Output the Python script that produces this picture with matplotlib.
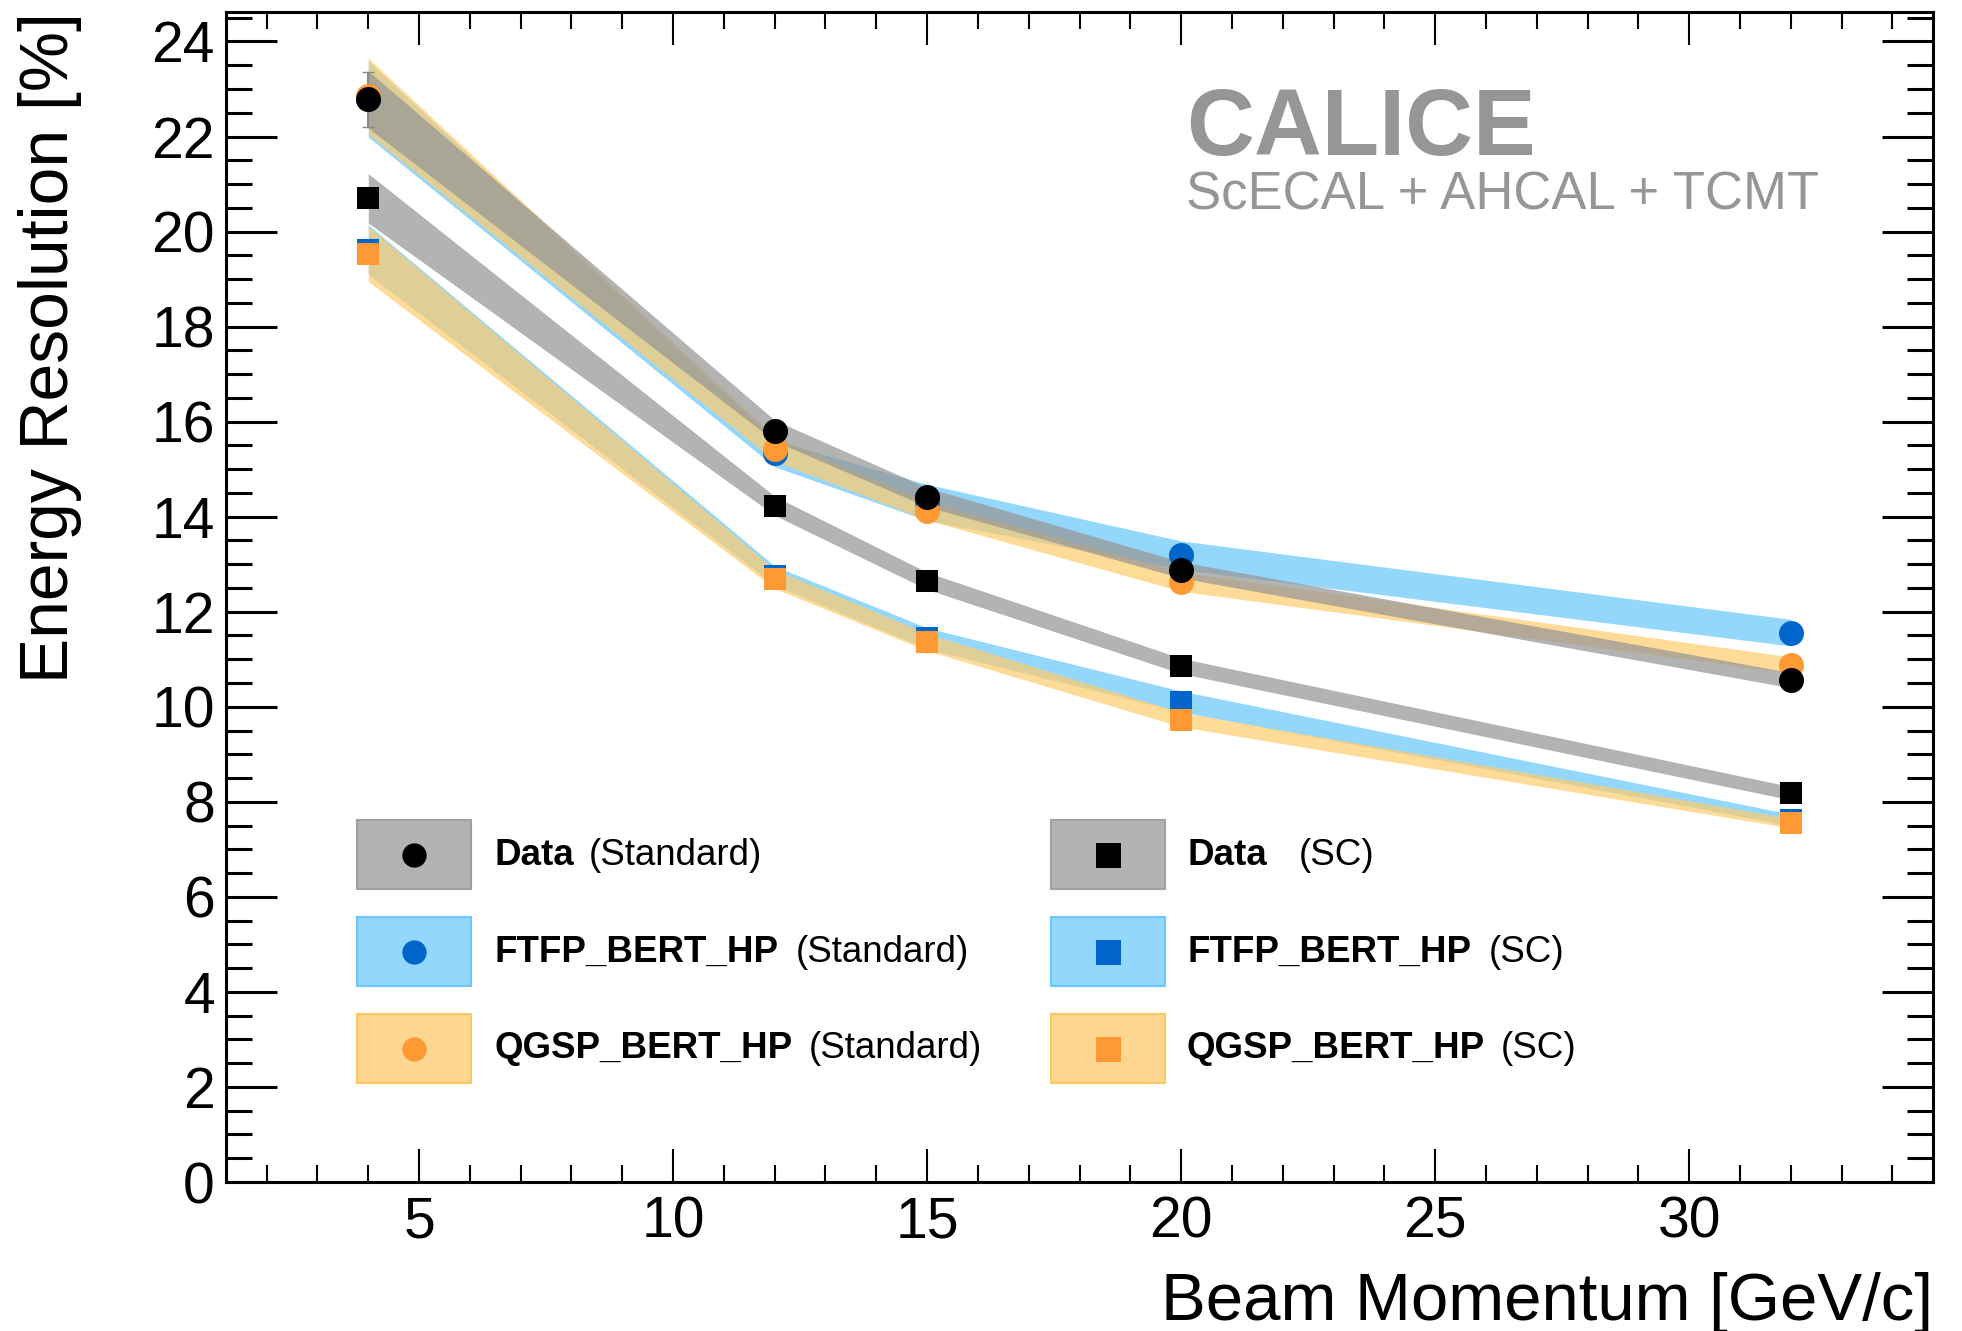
import matplotlib
matplotlib.use("Agg")
import matplotlib.pyplot as plt
from matplotlib.patches import Rectangle
from matplotlib.ticker import MultipleLocator

plt.rcParams["font.family"] = ["Liberation Sans", "DejaVu Sans"]

# beam momentum points [GeV/c]
momentum = [4, 12, 15, 20, 32]

# energy resolution [%], standard reconstruction
data_std = [22.78, 15.81, 14.41, 12.88, 10.56]
ftfp_std = [22.79, 15.33, 14.30, 13.19, 11.56]
qgsp_std = [22.85, 15.42, 14.13, 12.63, 10.88]

# energy resolution [%], software compensation
data_sc = [20.70, 14.23, 12.65, 10.86, 8.18]
ftfp_sc = [19.62, 12.76, 11.44, 10.11, 7.62]
qgsp_sc = [19.53, 12.69, 11.36, 9.73, 7.55]

# uncertainty band half widths
data_std_band = [0.60, 0.22, 0.20, 0.17, 0.16]
data_sc_band = [0.52, 0.20, 0.18, 0.16, 0.14]
ftfp_std_band = [0.80, 0.28, 0.38, 0.30, 0.28]
qgsp_std_band = [0.80, 0.25, 0.20, 0.20, 0.17]
ftfp_sc_band = [0.52, 0.20, 0.22, 0.22, 0.12]
qgsp_sc_band = [0.58, 0.20, 0.18, 0.15, 0.10]

# statistical errors on data points
data_std_err = [0.58, 0.08, 0.08, 0.08, 0.08]

legend_bold = ["Data", "FTFP_BERT_HP", "QGSP_BERT_HP"]
legend_std = "(Standard)"
legend_sc = "(SC)"

W, H = 1962, 1331

GRAY_BAND = "#979797"
BLUE_BAND = "#93D7FD"
ORANGE_BAND = "#FECD6E"
BLUE = "#0066CC"
ORANGE = "#FF9933"


def fx(x):
    return x / W


def fy(y):
    return 1 - y / H


fig = plt.figure(figsize=(W / 100, H / 100), dpi=100)
ax = fig.add_axes([fx(226), fy(1182), (1933 - 226) / W, (1182 - 12) / H])


def band(vals, half, color, alpha):
    lo = [v - h for v, h in zip(vals, half)]
    hi = [v + h for v, h in zip(vals, half)]
    ax.fill_between(momentum, lo, hi, color=color, alpha=alpha, linewidth=0, zorder=2)


band(ftfp_std, ftfp_std_band, BLUE_BAND, 1.0)
band(ftfp_sc, ftfp_sc_band, BLUE_BAND, 1.0)
band(qgsp_std, qgsp_std_band, ORANGE_BAND, 0.72)
band(qgsp_sc, qgsp_sc_band, ORANGE_BAND, 0.72)
band(data_std, data_std_band, GRAY_BAND, 0.73)
band(data_sc, data_sc_band, GRAY_BAND, 0.73)

ax.errorbar(momentum, data_std, yerr=data_std_err, fmt="none", ecolor="#888888",
            elinewidth=1.5, capsize=4, zorder=3)

ax.plot(momentum, ftfp_std, "o", color=BLUE, ms=18, mew=0, zorder=4)
ax.plot(momentum, ftfp_sc, "s", color=BLUE, ms=16.5, mew=0, zorder=4)
ax.plot(momentum, qgsp_std, "o", color=ORANGE, ms=18, mew=0, zorder=5)
ax.plot(momentum, qgsp_sc, "s", color=ORANGE, ms=16.5, mew=0, zorder=5)
ax.plot(momentum, data_std, "o", color="black", ms=18, mew=0, zorder=6)
ax.plot(momentum, data_sc, "s", color="black", ms=16.5, mew=0, zorder=6)

ax.set_xlim(1.2, 34.8)
ax.set_ylim(0, 24.62)
ax.xaxis.set_major_locator(MultipleLocator(5))
ax.xaxis.set_minor_locator(MultipleLocator(1))
ax.yaxis.set_major_locator(MultipleLocator(2))
ax.yaxis.set_minor_locator(MultipleLocator(0.5))
ax.tick_params(axis="both", which="both", direction="in", top=True, right=True)
ax.tick_params(axis="x", which="major", length=24, width=1.5, labelsize=41, pad=10)
ax.tick_params(axis="x", which="minor", length=12, width=1.5)
ax.tick_params(axis="y", which="major", length=37, width=2.2, labelsize=41, pad=8)
ax.tick_params(axis="y", which="minor", length=19, width=2.2)
for s in ax.spines.values():
    s.set_linewidth(2.2)

fig.text(fx(50), fy(12), "Energy Resolution [%]", rotation=90, ha="center", va="top",
         fontsize=48.8)
fig.text(fx(1933), fy(1303), "Beam Momentum [GeV/c]", ha="right", va="center",
         fontsize=48.3)

fig.text(fx(1186), fy(130), "CALICE", color="#969696", fontsize=67.7, fontweight="bold",
         ha="left", va="center")
fig.text(fx(1186), fy(196), "ScECAL + AHCAL + TCMT", color="#969696", fontsize=37.9,
         ha="left", va="center")

# legend, built by hand in figure pixels
rows_y = [855, 952, 1048.5]
box_fill = ["#B3B3B3", BLUE_BAND, "#FED692"]
box_edge = ["#A0A0A0", "#6CC6FF", "#FEC860"]
mark_col = ["black", BLUE, ORANGE]
columns = [
    (357, 494, "o", 17.5, legend_std, [11, 13, 12]),
    (1051, 1187, "s", 18, legend_sc, [23, 13, 11]),
]
for box_x, text_x, marker, msize, suffix, gaps in columns:
    for i, yc in enumerate(rows_y):
        fig.add_artist(Rectangle((fx(box_x), fy(yc + 34)), 114 / W, 69 / H,
                                 transform=fig.transFigure, facecolor=box_fill[i],
                                 edgecolor=box_edge[i], linewidth=1.5))
        fig.add_artist(plt.Line2D([fx(box_x + 57)], [fy(yc)], marker=marker,
                                  color=mark_col[i], ms=msize, mew=0,
                                  transform=fig.transFigure))
        bold = fig.text(fx(text_x), fy(yc + 10), legend_bold[i], fontsize=26.5,
                        fontweight="bold", ha="left", va="baseline")
        fig.add_artist(plt.Annotation(suffix, xy=(1, 0), xycoords=bold,
                                      xytext=(gaps[i], 0), textcoords="offset points",
                                      fontsize=26.5, ha="left", va="bottom"))

fig.savefig("out.png", dpi=100)
